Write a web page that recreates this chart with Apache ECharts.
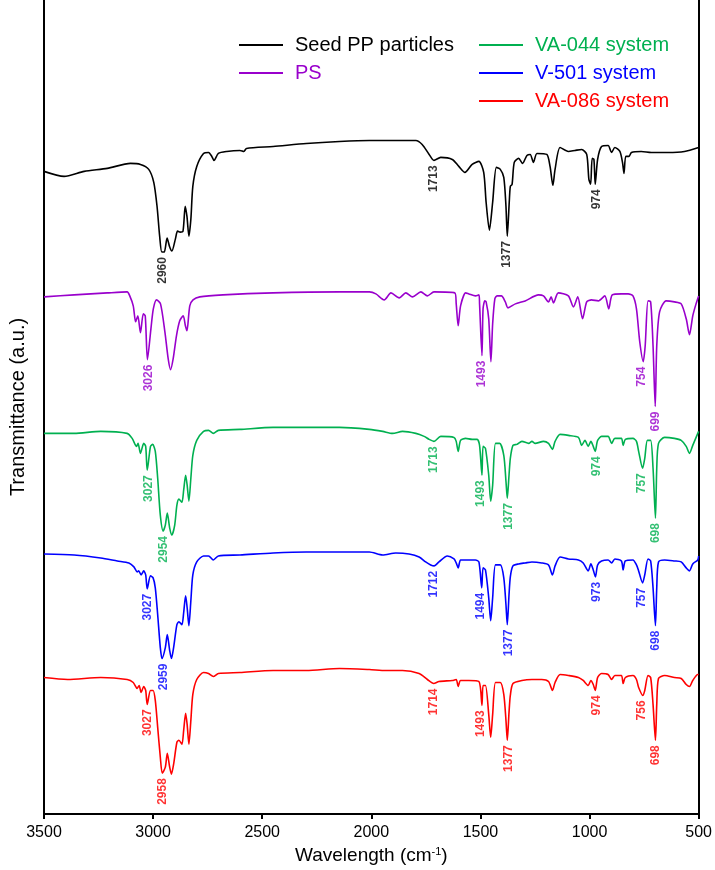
<!DOCTYPE html>
<html><head><meta charset="utf-8">
<script src="https://cdn.jsdelivr.net/npm/echarts@6/dist/echarts.min.js"></script>
<style>html,body{margin:0;padding:0;background:#fff}#c{width:715px;height:870px}</style>
</head><body><div id="c"></div>
<script>
// Wavenumber (cm-1) vs transmittance (a.u., offset curves)
const seedPP = [[3500,645],[3408,640],[3316,645],[3210,648],[3104,653],[3058,652],[3020,647],[2997,634],[2982,610],[2970,580],[2960,564],[2949,564],[2936,578],[2924,569],[2914,565],[2898,577],[2888,585],[2876,584],[2863,585],[2853,610],[2845,600],[2836,580],[2827,597],[2818,630],[2800,650],[2769,663],[2746,664],[2731,660],[2721,656],[2701,663],[2663,665],[2602,666],[2584,665],[2572,668],[2450,670],[2298,673],[2146,675],[2009,676],[1796,676],[1767,672],[1735,662],[1713,656],[1682,659],[1629,657],[1599,650],[1571,644],[1538,652],[1507,655],[1485,644],[1474,614],[1459,586],[1444,614],[1427,649],[1409,647],[1393,639],[1383,610],[1377,580],[1368,614],[1363,630],[1355,632],[1345,654],[1325,658],[1307,653],[1287,661],[1272,662],[1257,654],[1241,663],[1196,662],[1181,650],[1168,631],[1158,647],[1135,669],[1097,665],[1067,666],[1036,667],[1013,662],[1003,637],[995,632],[988,658],[980,657],[974,632],[963,657],[945,670],[915,671],[899,664],[884,669],[861,665],[849,654],[842,643],[834,660],[819,660],[808,664],[763,665],[717,664],[641,664],[565,665],[500,669]];

const ps = [[3500,519],[3362,521],[3210,523],[3119,524],[3107,520],[3091,510],[3080,494],[3070,500],[3058,483],[3045,502],[3036,500],[3026,456],[3010,487],[2999,507],[2984,516],[2966,512],[2946,484],[2931,457],[2920,446],[2908,457],[2893,480],[2878,495],[2862,500],[2852,490],[2845,485],[2832,510],[2817,516],[2786,519],[2680,521],[2450,523],[2146,524],[2009,524],[1979,522],[1941,516],[1910,523],[1872,518],[1842,523],[1811,519],[1773,524],[1743,520],[1713,524],[1617,523],[1611,512],[1602,490],[1591,510],[1568,523],[1553,522],[1523,520],[1507,521],[1504,512],[1493,460],[1488,507],[1480,515],[1474,514],[1462,497],[1452,454],[1444,492],[1434,517],[1424,520],[1404,520],[1386,514],[1374,508],[1340,512],[1295,515],[1234,521],[1211,520],[1188,514],[1176,519],[1165,513],[1143,523],[1097,520],[1074,509],[1054,519],[1032,497],[1013,514],[991,516],[960,515],[930,520],[912,507],[896,521],[854,522],[823,522],[801,520],[785,507],[770,474],[754,454],[745,470],[732,515],[720,514],[709,470],[699,409],[692,470],[679,504],[649,515],[611,514],[580,512],[557,497],[542,481],[527,500],[512,512],[500,520]];

const va044 = [[3500,382],[3362,382],[3240,384],[3119,382],[3096,377],[3076,369],[3069,372],[3058,362],[3043,372],[3034,369],[3027,345],[3012,369],[3002,371],[2990,364],[2979,337],[2967,300],[2954,284],[2944,290],[2935,302],[2924,287],[2914,280],[2901,290],[2891,310],[2882,316],[2868,313],[2860,325],[2851,340],[2844,330],[2836,314],[2827,337],[2818,360],[2800,375],[2769,384],[2746,385],[2724,382],[2701,385],[2602,386],[2450,388],[2298,388],[2146,388],[2009,386],[1948,384],[1903,382],[1857,384],[1796,382],[1758,379],[1735,376],[1713,374],[1682,379],[1621,378],[1611,374],[1602,364],[1591,375],[1568,377],[1538,376],[1515,376],[1504,370],[1493,340],[1488,369],[1477,367],[1462,340],[1453,314],[1444,330],[1431,372],[1412,372],[1393,360],[1383,334],[1377,317],[1369,340],[1363,357],[1351,370],[1333,371],[1310,374],[1279,372],[1264,374],[1249,372],[1211,374],[1188,372],[1170,366],[1158,374],[1135,381],[1097,380],[1051,378],[1036,370],[1021,375],[1006,369],[994,374],[983,369],[974,364],[963,375],[945,379],[915,379],[899,372],[884,377],[854,377],[846,370],[836,376],[801,377],[785,374],[775,364],[757,347],[747,357],[735,375],[720,375],[709,347],[698,297],[692,347],[684,372],[656,378],[611,377],[580,375],[557,369],[542,362],[527,370],[504,382],[500,384]];

const v501 = [[3500,261],[3362,260],[3240,257],[3164,254],[3111,252],[3088,248],[3073,243],[3066,244],[3055,240],[3043,244],[3034,240],[3027,226],[3012,239],[3000,237],[2990,227],[2979,200],[2967,167],[2959,156],[2944,167],[2935,180],[2924,164],[2916,156],[2906,167],[2891,190],[2882,193],[2868,190],[2860,202],[2851,219],[2844,207],[2836,189],[2827,214],[2818,240],[2800,253],[2769,259],[2746,259],[2724,255],[2701,259],[2602,260],[2450,262],[2298,263],[2146,263],[2009,263],[1948,260],[1888,262],[1827,261],[1781,258],[1751,253],[1728,250],[1712,249],[1690,253],[1652,259],[1621,256],[1611,252],[1602,247],[1591,255],[1568,255],[1523,255],[1507,253],[1494,227],[1488,247],[1477,245],[1462,217],[1453,194],[1444,217],[1431,250],[1409,250],[1393,237],[1383,210],[1377,190],[1369,220],[1363,238],[1351,249],[1325,251],[1295,252],[1264,253],[1219,252],[1188,250],[1170,240],[1158,249],[1135,258],[1097,256],[1051,255],[1029,252],[1006,244],[994,251],[983,245],[973,238],[963,250],[945,254],[915,255],[899,252],[884,256],[854,254],[846,245],[836,254],[801,255],[785,250],[775,244],[757,232],[747,240],[732,256],[720,254],[709,227],[698,189],[692,227],[684,253],[656,255],[611,254],[580,253],[557,247],[542,244],[527,251],[504,255],[500,259]];

const va086 = [[3500,137],[3392,135],[3240,137],[3119,135],[3091,132],[3073,126],[3064,129],[3055,122],[3043,128],[3034,124],[3027,110],[3012,124],[3000,124],[2990,114],[2979,87],[2967,57],[2958,41],[2944,47],[2935,61],[2924,47],[2916,40],[2906,50],[2891,72],[2882,74],[2868,70],[2860,84],[2851,101],[2844,90],[2836,70],[2827,94],[2818,120],[2800,135],[2769,142],[2746,141],[2724,138],[2701,141],[2602,142],[2450,144],[2344,144],[2298,144],[2146,146],[2009,145],[1933,144],[1857,144],[1781,141],[1743,135],[1714,131],[1690,133],[1629,134],[1611,135],[1602,128],[1591,134],[1553,134],[1507,133],[1493,109],[1488,129],[1477,129],[1462,100],[1453,77],[1444,100],[1431,132],[1409,132],[1393,120],[1383,94],[1377,74],[1369,102],[1363,119],[1351,131],[1310,134],[1264,135],[1219,135],[1188,133],[1170,124],[1158,132],[1135,140],[1097,139],[1051,137],[1029,134],[1006,129],[994,134],[983,130],[974,124],[963,137],[945,141],[915,140],[899,135],[884,139],[854,139],[846,131],[836,137],[801,139],[785,135],[775,127],[756,119],[747,124],[732,139],[720,137],[709,110],[698,74],[692,110],[684,136],[656,139],[611,137],[580,136],[557,130],[542,128],[527,134],[504,140],[500,140]];

// Peak annotations: [wavenumber position, text]
const seedPPPeaks = [[2955,'2960'],[1713,'1713'],[1378,'1377'],[968,'974']];
const psPeaks = [[3021,'3026'],[1492,'1493'],[761,'754'],[699,'699']];
const va044Peaks = [[3021,'3027'],[2951,'2954'],[1713,'1713'],[1497,'1493'],[1371,'1377'],[966,'974'],[761,'757'],[699,'698']];
const v501Peaks = [[3027,'3027'],[2951,'2959'],[1713,'1712'],[1501,'1494'],[1371,'1377'],[966,'973'],[761,'757'],[699,'698']];
const va086Peaks = [[3027,'3027'],[2956,'2958'],[1713,'1714'],[1501,'1493'],[1371,'1377'],[966,'974'],[761,'756'],[699,'698']];

const seriesNames = ['Seed PP particles','PS','VA-044 system','V-501 system','VA-086 system'];
const seriesData = [seedPP, ps, va044, v501, va086];
const seriesPeaks = [seedPPPeaks, psPeaks, va044Peaks, v501Peaks, va086Peaks];
const colors = ['#000000','#9900CC','#00B050','#0000FF','#FF0000'];
const FONT = '"Liberation Sans", Arial, sans-serif';

function peakPoints(data, peaks){
  return peaks.map(([w,t])=>{
    let m = Infinity;
    data.forEach(([x,v])=>{ if (Math.abs(x-w) <= 12 && v < m) m = v; });
    return {value:[w, m-5], name:t};
  });
}

const series = [];
seriesNames.forEach((n,i)=>{
  series.push({
    name:n, type:'line', data:seriesData[i], symbol:'none', smooth:0.25,
    lineStyle:{color:colors[i], width:1.6}, itemStyle:{color:colors[i]},
    xAxisIndex:0, yAxisIndex:0, z:2, silent:true
  });
});
seriesNames.forEach((n,i)=>{
  series.push({
    name:n+' peaks', type:'scatter', data:peakPoints(seriesData[i], seriesPeaks[i]),
    symbolSize:1, itemStyle:{color:'rgba(0,0,0,0)'}, silent:true, z:5,
    label:{show:true, formatter:'{b}', position:'inside', rotate:90, align:'right', verticalAlign:'middle',
      color:colors[i], fontSize:12, fontWeight:'bold', fontFamily:FONT}
  });
});

const legendItem = (n,i)=>({name:n, textStyle:{color:colors[i]}});
const legendBase = {orient:'vertical', itemWidth:44, itemHeight:2, itemGap:8, icon:'rect', padding:0,
  textStyle:{fontSize:20, fontFamily:FONT, lineHeight:20, padding:[0,0,0,7]}, selectedMode:false};

const chart = echarts.init(document.getElementById('c'), null, {renderer:'canvas'});
chart.setOption({
  animation:false,
  backgroundColor:'#fff',
  grid:{left:44, right:13, top:0, bottom:53},
  legend:[
    Object.assign({}, legendBase, {left:239, top:35, data:[legendItem(seriesNames[0],0), legendItem(seriesNames[1],1)]}),
    Object.assign({}, legendBase, {left:479, top:35, data:[legendItem(seriesNames[2],2), legendItem(seriesNames[3],3), legendItem(seriesNames[4],4)]})
  ],
  xAxis:{type:'value', min:500, max:3500, interval:500, inverse:true,
    axisLine:{show:true, lineStyle:{color:'#000', width:2}},
    axisTick:{show:true, inside:false, length:5, lineStyle:{color:'#000', width:2}},
    axisLabel:{color:'#000', fontSize:16, fontFamily:FONT, margin:11, formatter:v=>String(v)},
    splitLine:{show:false},
    name:'{a|Wavelength (cm}{s|-1}{a|)}', nameLocation:'middle', nameGap:32,
    nameTextStyle:{rich:{a:{fontSize:19, fontFamily:FONT, color:'#000'}, s:{fontSize:11, fontFamily:FONT, color:'#000', verticalAlign:'top', padding:[0,0,8,0]}}}
  },
  yAxis:[
    {type:'value', min:0, max:817, position:'left',
     axisLine:{show:true, lineStyle:{color:'#000', width:2}}, axisTick:{show:false}, axisLabel:{show:false}, splitLine:{show:false},
     name:'Transmittance (a.u.)', nameLocation:'middle', nameGap:16, nameRotate:90,
     nameTextStyle:{fontSize:20, fontFamily:FONT, color:'#000'}},
    {type:'value', min:0, max:817, position:'right',
     axisLine:{show:true, lineStyle:{color:'#000', width:2}}, axisTick:{show:false}, axisLabel:{show:false}, splitLine:{show:false}}
  ],
  series:series
});
</script></body></html>
